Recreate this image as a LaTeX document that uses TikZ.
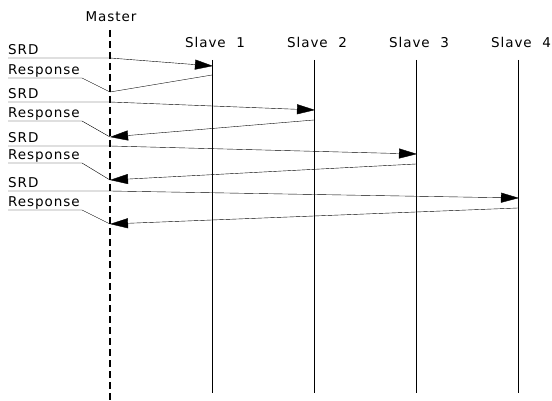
\documentclass[tikz,border=0pt]{standalone}
\usepackage{fontspec}
\setmainfont{DejaVu Sans}[LetterSpace=7]
\usetikzlibrary{arrows.meta}
\tikzset{
	,x = 1pt, y = -1pt
	,line width = 1pt
	,font = \fontsize{13.5}{15}\selectfont
	,lbl/.style    = {anchor=base west, inner sep=0pt}
	,head/.style   = {anchor=base, inner sep=0pt}
	,life/.style   = {-}
	,master/.style = {line width=1.8pt, dash pattern=on 7pt off 4pt}
	,msg/.style    = {-{Triangle[length=18pt, width=10pt]}}
}
\begin{document}
\begin{tikzpicture}
	\useasboundingbox (0,0) rectangle (552,401);
	% master
	\node[head] (mst) at (111,22) {Master};
	\coordinate (mtop) at (110,30);
	\coordinate (mbot) at (110,401);
	\draw[master] (mtop) -- (mbot);
	% slaves
	\foreach \i/\x in {1/212, 2/314, 3/416, 4/518} {
		\node[head] (sl\i) at (\x+3,48) {Slave\ \ \i};
		\coordinate (s\i top) at (\x,60);
		\coordinate (s\i bot) at (\x,393);
		\draw[life] (s\i top) -- (s\i bot);
	}
	% request 1
	\node[lbl] (srd1) at (8,55) {SRD};
	\coordinate (q1a) at (8,58);   \coordinate (q1m) at (110,58);  \coordinate (q1s) at (213,66);
	\draw[msg] (q1a) -- (q1m) -- (q1s);
	\node[lbl] (rsp1) at (8,75) {Response};
	\coordinate (r1a) at (8,78);   \coordinate (r1b) at (82,78);
	\coordinate (r1s) at (212,75); \coordinate (r1m) at (110,92);
	\draw (r1a) -- (r1b) -- (r1m);
	\draw (r1s) -- (r1m);
	% request 2
	\node[lbl] (srd2) at (8,99) {SRD};
	\coordinate (q2a) at (8,102);  \coordinate (q2m) at (110,102); \coordinate (q2s) at (315,110);
	\draw[msg] (q2a) -- (q2m) -- (q2s);
	\node[lbl] (rsp2) at (8,118) {Response};
	\coordinate (r2a) at (8,121);  \coordinate (r2b) at (82,121);
	\coordinate (r2s) at (314,120); \coordinate (r2m) at (110,137);
	\draw (r2a) -- (r2b) -- (r2m);
	\draw[msg] (r2s) -- (r2m);
	% request 3
	\node[lbl] (srd3) at (8,143) {SRD};
	\coordinate (q3a) at (8,146);  \coordinate (q3m) at (110,146); \coordinate (q3s) at (417,154);
	\draw[msg] (q3a) -- (q3m) -- (q3s);
	\node[lbl] (rsp3) at (8,160) {Response};
	\coordinate (r3a) at (8,163);  \coordinate (r3b) at (82,163);
	\coordinate (r3s) at (416,164); \coordinate (r3m) at (110,180);
	\draw (r3a) -- (r3b) -- (r3m);
	\draw[msg] (r3s) -- (r3m);
	% request 4
	\node[lbl] (srd4) at (8,188) {SRD};
	\coordinate (q4a) at (8,191);  \coordinate (q4m) at (110,191); \coordinate (q4s) at (519,198);
	\draw[msg] (q4a) -- (q4m) -- (q4s);
	\node[lbl] (rsp4) at (8,207) {Response};
	\coordinate (r4a) at (8,210);  \coordinate (r4b) at (82,210);
	\coordinate (r4s) at (518,208); \coordinate (r4m) at (110,224);
	\draw (r4a) -- (r4b) -- (r4m);
	\draw[msg] (r4s) -- (r4m);
\end{tikzpicture}
\end{document}
